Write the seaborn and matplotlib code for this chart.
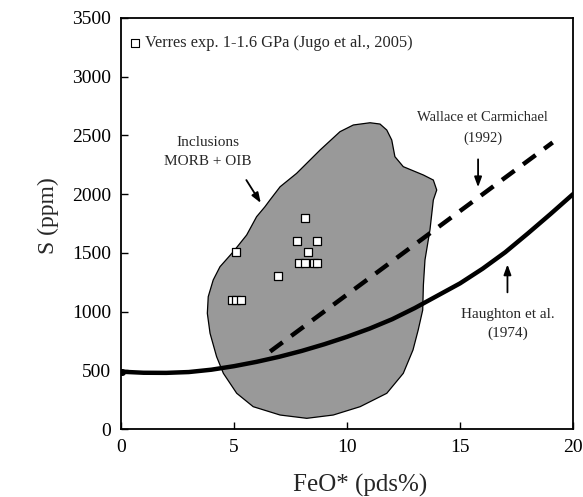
import numpy as np
import pandas as pd
import matplotlib.pyplot as plt
import seaborn as sns

# glass experiments (Jugo et al., 2005)
feo_exp = [8.16, 7.8, 8.69, 8.29, 5.1, 7.88, 8.14, 8.55, 8.66, 6.96, 4.9, 5.1, 5.3]
s_exp = [1800, 1600, 1600, 1510, 1510, 1410, 1410, 1410, 1410, 1300, 1100, 1100, 1100]

# Haughton et al. (1974) curve, read at each unit of FeO
feo_haughton = [0, 1, 2, 3, 4, 5, 6, 7, 8, 9, 10, 11, 12, 13, 14, 15, 16, 17, 18, 19, 20]
s_haughton = [488, 479, 478, 485, 505, 535, 572, 615, 665, 722, 785, 855, 935, 1030,
              1135, 1240, 1365, 1505, 1665, 1830, 2000]

# Wallace et Carmichael (1992)
feo_wallace = [6.6, 19.1]
s_wallace = [660, 2440]

# outline of MORB + OIB inclusions field
feo_field = [11.02, 11.46, 11.76, 11.98, 12.12, 12.49, 13.38, 13.82, 13.97, 13.82, 13.67,
             13.45, 13.38, 13.35, 13.15, 12.92, 12.49, 11.76, 10.58, 9.39, 8.22, 7.04,
             5.85, 5.12, 4.53, 4.23, 3.94, 3.82, 3.86, 4.08, 4.38, 4.97, 5.56, 6.0,
             6.37, 6.59, 7.04, 7.77, 8.81, 9.69, 10.28]
s_field = [2608, 2597, 2546, 2461, 2319, 2234, 2163, 2120, 2035, 1950, 1695,
           1439, 1226, 1013, 843, 673, 474, 304, 190, 119, 91, 119,
           190, 304, 474, 616, 815, 985, 1127, 1269, 1382, 1510, 1652, 1808,
           1893, 1950, 2063, 2177, 2376, 2532, 2589]

sns.set_style("ticks")
plt.rcParams['font.family'] = ['Liberation Serif', 'DejaVu Serif']

fig = plt.figure(figsize=(5.83, 4.97), dpi=100)
ax = fig.add_axes([121 / 583, 1 - 429 / 497, 452 / 583, 411 / 497])

ax.fill(feo_field, s_field, facecolor="#999999", edgecolor="black", linewidth=0.9, zorder=1)

sns.lineplot(x=feo_haughton, y=s_haughton, ax=ax, color="black", linewidth=3.2,
             sort=False, zorder=3)
ax.plot([0.05], [488], "o", color="black", markersize=4, zorder=3)
ax.plot(feo_wallace, s_wallace, color="black", linewidth=3.2, dashes=(3.5, 2.4), zorder=3)

sns.scatterplot(x=feo_exp, y=s_exp, ax=ax, marker="s", s=38, facecolor="white",
                edgecolor="black", linewidth=0.9, zorder=4)

# legend entry drawn by hand
ax.scatter([0.6], [3285], marker="s", s=30, facecolor="white", edgecolor="black",
           linewidth=0.8, clip_on=False)
ax.text(1.05, 3285, "Verres exp. 1-1.6 GPa (Jugo et al., 2005)", fontsize=11.8,
        va="center", ha="left")

arrow = dict(arrowstyle="-|>,head_length=0.6,head_width=0.22", color="black", lw=1.3)

ax.text(3.85, 2360, "Inclusions\nMORB + OIB", fontsize=11, ha="center", va="center",
        linespacing=1.6)
ax.annotate("", xy=(6.25, 1905), xytext=(5.48, 2140), arrowprops=arrow)

ax.text(16.0, 2565, "Wallace et Carmichael\n(1992)", fontsize=10.5, ha="center",
        va="center", linespacing=1.75)
ax.annotate("", xy=(15.8, 2035), xytext=(15.8, 2320), arrowprops=arrow)

ax.text(17.12, 895, "Haughton et al.\n(1974)", fontsize=11, ha="center",
        va="center", linespacing=1.6)
ax.annotate("", xy=(17.1, 1425), xytext=(17.1, 1140), arrowprops=arrow)

ax.set_xlim(0, 20)
ax.set_ylim(0, 3500)
ax.set_xticks([0, 5, 10, 15, 20])
ax.set_yticks(np.arange(0, 3501, 500))
ax.tick_params(direction="in", length=5, width=1, labelsize=14, colors="black", pad=7)
for sp in ax.spines.values():
    sp.set_visible(True)
    sp.set_linewidth(1.3)
    sp.set_color("black")

ax.set_xlabel("FeO* (pds%)", fontsize=18)
ax.set_ylabel("S (ppm)", fontsize=17)
ax.xaxis.set_label_coords(0.529, -0.11)
ax.yaxis.set_label_coords(-0.138, 0.518)

fig.savefig("out.png", dpi=100)
